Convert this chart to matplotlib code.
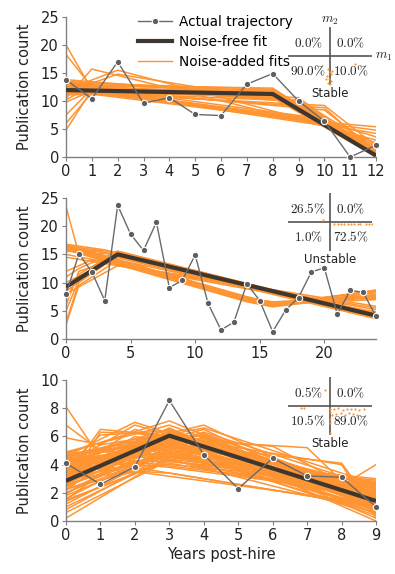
import matplotlib
matplotlib.use("Agg")
import matplotlib.pyplot as plt
from matplotlib.lines import Line2D

plt.rcParams['font.family'] = ['DejaVu Sans']
plt.rcParams['mathtext.fontset'] = 'cm'

# ---------------- data ----------------
p1_years = list(range(13))
p1_actual = [13.8, 10.4, 17.0, 9.6, 10.6, 7.6, 7.4, 13.0, 14.9, 10.0, 6.4, 0.0, 2.1]
p1_fit_x = [0, 8, 12]
p1_fit_y = [11.95, 11.25, 0.25]
p1_noise = [
    [(0, 13.5), (8, 11.5), (12, 0.3)], [(0, 13.0), (8, 11.8), (12, 0.0)],
    [(0, 12.6), (8, 11.2), (12, 0.8)], [(0, 12.2), (8, 12.0), (12, 0.5)],
    [(0, 11.8), (8, 11.6), (12, 1.2)], [(0, 11.4), (8, 11.0), (12, 0.2)],
    [(0, 13.8), (8, 10.9), (12, 1.0)], [(0, 12.9), (8, 12.3), (12, 0.6)],
    [(0, 11.1), (8, 11.4), (12, 1.5)], [(0, 12.4), (8, 10.6), (12, 0.1)],
    [(0, 13.3), (8, 12.1), (12, 0.9)], [(0, 11.6), (8, 10.8), (12, 0.4)],
    [(0, 12.8), (9, 10.6), (12, 0.4)], [(0, 12.3), (9, 10.2), (12, 1.8)],
    [(0, 13.2), (9, 9.8), (12, 0.9)], [(0, 12.0), (10, 8.8), (12, 0.5)],
    [(0, 12.5), (10, 8.4), (12, 1.2)], [(0, 11.6), (10, 9.2), (12, 2.0)],
    [(0, 12.8), (10, 6.2), (12, 5.4)], [(0, 12.4), (10, 6.0), (12, 4.8)],
    [(0, 13.0), (10, 5.8), (12, 4.2)], [(0, 12.0), (10, 6.4), (12, 3.6)],
    [(0, 12.6), (10, 5.6), (12, 3.0)], [(0, 11.8), (10, 6.1), (12, 2.5)],
    [(0, 10.5), (1, 15.7), (10, 5.5), (12, 1.0)], [(0, 12.0), (2, 15.5), (10, 5.8), (12, 0.8)],
    [(0, 11.5), (2, 14.8), (9, 9.5), (12, 0.5)], [(0, 12.5), (10, 6.6), (12, 0.5)],
    [(0, 13.0), (10, 6.8), (12, 1.5)], [(0, 20.0), (1, 12.0), (8, 11.0), (12, 0.2)],
    [(0, 18.3), (1, 12.5), (8, 11.3), (12, 0.5)], [(0, 9.8), (1, 11.8), (8, 11.5), (12, 0.8)],
    [(0, 7.5), (1, 12.2), (8, 11.2), (12, 0.3)], [(0, 4.8), (1, 12.0), (8, 11.6), (12, 0.6)],
    [(0, 6.0), (1, 11.5), (9, 10.0), (12, 1.0)], [(0, 10.2), (1, 12.8), (8, 11.9), (12, 0.4)],
]
p1_pct = ["0.0\\%", "0.0\\%", "90.0\\%", "10.0\\%"]
p1_label = "Stable"
p1_dots_m1 = [-0.05, 0.0, 0.03, -0.08, -0.02, 0.02, -0.04, 0.05, -0.1, 0.0, 0.6]
p1_dots_m2 = [-0.45, -0.55, -0.62, -0.7, -0.78, -0.85, -0.92, -0.5, -0.8, -0.97, -0.28]

p2_years = list(range(25))
p2_actual = [7.9, 15.1, 11.9, 6.8, 23.7, 18.6, 15.7, 20.7, 9.1, 10.4, 14.9, 6.3,
             1.6, 3.0, 9.8, 6.8, 1.3, 5.1, 7.35, 11.9, 12.6, 4.4, 8.6, 8.3, 4.0]
p2_fit_x = [0, 4, 24]
p2_fit_y = [9.25, 15.0, 4.15]
p2_noise = [
    [(0, 9.0), (4, 15.3), (24, 4.0)], [(0, 8.5), (4, 15.0), (24, 4.4)],
    [(0, 10.0), (4, 14.6), (24, 3.8)], [(0, 7.0), (1, 11.5), (4, 15.5), (24, 4.2)],
    [(0, 5.0), (1, 10.5), (4, 15.2), (24, 3.9)], [(0, 3.0), (1, 10.0), (4, 14.8), (24, 4.5)],
    [(0, 11.0), (1, 12.5), (4, 15.6), (24, 4.1)], [(0, 6.0), (1, 12.0), (4, 14.4), (24, 3.6)],
    [(0, 2.5), (1, 9.5), (4, 14.0), (24, 4.3)], [(0, 16.5), (4, 15.3), (24, 4.0)],
    [(0, 16.2), (4, 15.0), (24, 4.3)], [(0, 16.8), (3, 15.8), (24, 3.8)],
    [(0, 15.5), (2, 15.8), (24, 4.6)], [(0, 23.5), (1, 15.0), (4, 15.2), (24, 4.0)],
    [(0, 15.0), (5, 12.8), (24, 5.8)], [(0, 14.5), (24, 5.5)],
    [(0, 12.0), (2, 14.0), (24, 5.2)], [(0, 8.0), (4, 13.0), (24, 4.8)],
    [(0, 16.8), (14, 7.3), (16, 6.2), (24, 8.6)], [(0, 16.5), (14, 7.0), (16, 5.9), (24, 8.2)],
    [(0, 16.2), (14, 6.8), (16, 6.0), (24, 7.6)], [(0, 16.0), (14, 7.2), (16, 6.6), (24, 7.2)],
    [(0, 15.8), (14, 6.6), (16, 5.7), (24, 7.9)], [(0, 16.6), (14, 7.5), (16, 6.4), (24, 7.4)],
    [(0, 16.3), (14, 7.1), (16, 6.3), (24, 8.4)], [(0, 15.9), (14, 6.9), (16, 6.1), (24, 7.0)],
    [(0, 16.4), (14, 6.7), (16, 5.8), (24, 8.7)], [(0, 16.1), (14, 7.4), (16, 6.5), (24, 7.8)],
]
p2_pct = ["26.5\\%", "0.0\\%", "1.0\\%", "72.5\\%"]
p2_label = "Unstable"
p2_dots_m1 = [0.1, 0.18, 0.26, 0.34, 0.42, 0.5, 0.58, 0.66, 0.72, 0.85, 0.92, 1.0, -0.17]
p2_dots_m2 = [-0.07, -0.06, -0.08, -0.07, -0.06, -0.08, -0.07, -0.06, -0.07, -0.08, -0.07, -0.06, 0.07]

p3_years = list(range(10))
p3_actual = [4.1, 2.6, 3.85, 8.55, 4.7, 2.3, 4.45, 3.2, 3.1, 1.0]
p3_fit_x = [0, 3, 9]
p3_fit_y = [2.85, 6.05, 1.42]
p3_noise = [
    [(0, 4.9), (3, 6.8), (9, 1.5)], [(0, 4.5), (3, 6.5), (9, 1.0)], [(0, 4.2), (3, 6.2), (9, 1.8)],
    [(0, 3.8), (3, 6.0), (9, 2.2)], [(0, 3.5), (3, 5.8), (9, 0.8)], [(0, 3.2), (3, 5.5), (9, 1.3)],
    [(0, 2.8), (3, 6.1), (9, 1.6)], [(0, 2.4), (3, 5.9), (9, 2.5)], [(0, 2.0), (3, 5.6), (9, 1.2)],
    [(0, 1.6), (3, 5.3), (9, 2.0)], [(0, 1.2), (3, 5.0), (9, 0.6)], [(0, 0.8), (3, 4.8), (9, 1.4)],
    [(0, 0.2), (3, 4.6), (9, 2.8)], [(0, 4.7), (3, 5.2), (9, 0.4)], [(0, 4.0), (3, 4.9), (9, 2.4)],
    [(0, 3.0), (3, 4.5), (9, 3.0)], [(0, 4.4), (3, 4.2), (9, 2.9)], [(0, 3.6), (3, 4.0), (9, 2.6)],
    [(0, 4.8), (3, 7.1), (9, 1.1)], [(0, 3.3), (3, 6.6), (9, 0.2)], [(0, 2.6), (3, 6.4), (9, 0.0)],
    [(0, 4.6), (2, 7.0), (9, 1.5)], [(0, 4.0), (2, 6.8), (9, 2.0)], [(0, 3.4), (2, 6.5), (9, 1.2)],
    [(0, 2.9), (2, 6.0), (9, 2.6)], [(0, 2.2), (2, 5.6), (9, 0.9)], [(0, 1.5), (2, 5.2), (9, 1.7)],
    [(0, 4.3), (2, 5.0), (9, 1.9)], [(0, 3.7), (2, 4.6), (9, 2.3)], [(0, 2.5), (2, 4.2), (9, 2.1)],
    [(0, 4.9), (2, 3.8), (9, 1.0)], [(0, 4.5), (4, 6.8), (9, 1.2)], [(0, 3.9), (4, 6.5), (9, 0.7)],
    [(0, 3.0), (4, 6.2), (9, 1.9)], [(0, 2.0), (4, 6.0), (9, 1.4)], [(0, 1.0), (4, 5.7), (9, 2.2)],
    [(0, 4.2), (4, 5.4), (9, 0.5)], [(0, 3.4), (4, 5.0), (9, 2.7)],
    [(0, 8.1), (1, 4.5), (3, 6.0), (9, 1.3)], [(0, 6.8), (1, 5.0), (3, 5.9), (9, 1.6)],
    [(0, 5.9), (1, 5.4), (3, 6.2), (9, 1.0)], [(0, 3.2), (1, 6.5), (4, 5.8), (9, 1.5)],
    [(0, 2.5), (1, 6.3), (4, 6.0), (9, 1.1)], [(0, 3.8), (1, 6.1), (3, 6.4), (9, 1.8)],
    [(0, 4.0), (3, 5.8), (7, 5.2), (9, 0.5)], [(0, 3.6), (3, 5.5), (8, 4.1), (9, 0.8)],
    [(0, 4.3), (3, 6.0), (8, 4.0), (9, 0.2)], [(0, 3.9), (3, 5.9), (6, 5.3), (9, 1.5)],
    [(0, 3.5), (3, 5.0), (8, 2.5), (9, 4.0)], [(0, 3.0), (2, 3.5), (9, 1.2)],
    [(0, 3.8), (3, 3.4), (9, 1.0)], [(0, 4.6), (4, 6.1), (9, 2.0)],
    [(0, 4.1), (3, 6.3), (9, 1.4)], [(0, 3.7), (3, 5.7), (9, 1.9)], [(0, 3.1), (3, 6.2), (9, 0.9)],
    [(0, 2.7), (3, 5.4), (9, 1.7)], [(0, 2.2), (3, 5.1), (9, 2.3)], [(0, 1.8), (3, 4.9), (9, 1.0)],
    [(0, 1.4), (3, 4.4), (9, 2.5)], [(0, 0.6), (3, 4.3), (9, 1.6)], [(0, 4.6), (3, 5.6), (9, 0.7)],
    [(0, 4.3), (3, 4.7), (9, 2.1)], [(0, 3.9), (3, 5.3), (9, 1.3)], [(0, 3.4), (3, 6.3), (9, 2.4)],
    [(0, 4.8), (2, 6.3), (9, 1.3)], [(0, 4.4), (2, 5.8), (9, 2.2)], [(0, 3.2), (2, 5.4), (9, 1.8)],
    [(0, 2.6), (2, 5.0), (9, 0.6)], [(0, 1.9), (2, 4.8), (9, 1.5)], [(0, 4.1), (4, 5.9), (9, 1.6)],
    [(0, 3.6), (4, 6.3), (9, 2.4)], [(0, 2.6), (4, 5.5), (9, 0.9)], [(0, 1.5), (4, 5.2), (9, 1.8)],
    [(0, 4.7), (4, 6.6), (9, 2.6)], [(0, 2.3), (3, 4.1), (9, 1.6)], [(0, 4.5), (3, 3.8), (9, 1.9)],
]
p3_pct = ["0.5\\%", "0.0\\%", "10.5\\%", "89.0\\%"]
p3_label = "Stable"
p3_dots_m1 = [0.0, 0.1, 0.2, 0.3, 0.4, 0.5, 0.6, 0.7, 0.8, 0.05, 0.15, 0.25, 0.35, 0.45,
              0.55, 0.65, 0.0, 0.0, 0.0, -0.7, -0.62, -0.12, 0.0]
p3_dots_m2 = [-0.1, -0.12, -0.08, -0.15, -0.1, -0.12, -0.1, -0.15, -0.1, -0.3, -0.28, -0.25,
              -0.3, -0.25, -0.28, -0.3, -0.45, -0.6, -0.2, -0.07, -0.07, 0.55, -0.93]

y_label = "Publication count"
x_label = "Years post-hire"

# ---------------- style ----------------
ORANGE = '#FF9433'
DARK = '#3E3730'
GRAY = '#6A6A6A'
SPINE = '#808080'

W, H = 395, 574
fig = plt.figure(figsize=(W / 100, H / 100), dpi=100)


def px(x0, y0, x1, y1):
    return [x0 / W, 1 - y1 / H, (x1 - x0) / W, (y1 - y0) / H]


def main_panel(rect, years, actual, fit_x, fit_y, noise, ylim, yticks, xlim, xticks):
    ax = fig.add_axes(rect)
    for fitline in noise:
        xs = [p[0] for p in fitline]
        ys = [p[1] for p in fitline]
        ax.plot(xs, ys, color=ORANGE, lw=1.1, zorder=2, solid_joinstyle='miter')
    ax.plot(years, actual, color=GRAY, lw=1.0, marker='o', ms=4.6, mfc='#5E5E5E',
            mec='white', mew=0.8, zorder=4, clip_on=False)
    ax.plot(fit_x, fit_y, color=DARK, lw=3.0, zorder=3, solid_capstyle='butt')
    ax.set_xlim(*xlim)
    ax.set_ylim(*ylim)
    ax.set_xticks(xticks)
    ax.set_yticks(yticks)
    for s in ['top', 'right']:
        ax.spines[s].set_visible(False)
    for s in ['left', 'bottom']:
        ax.spines[s].set_color(SPINE)
        ax.spines[s].set_linewidth(1.0)
    ax.tick_params(direction='out', length=3, width=0.8, color=SPINE,
                   labelsize=10.5, labelcolor='#222222', pad=2)
    ax.set_ylabel(y_label, fontsize=10.5, color='#222222', labelpad=6)
    return ax


def inset(rect, pct, label, dm1, dm2):
    ia = fig.add_axes(rect)
    ia.set_xlim(-1, 1)
    ia.set_ylim(-1, 1)
    ia.axis('off')
    ia.axhline(0, color='#555555', lw=1.2)
    ia.axvline(0, color='#555555', lw=1.2)
    ia.scatter(dm1, dm2, s=2.5, color=ORANGE, zorder=3, linewidths=0)
    pos = [(-0.52, 0.45), (0.5, 0.45), (-0.52, -0.52), (0.5, -0.52)]
    for (x, y), t in zip(pos, pct):
        ia.text(x, y, r'$\mathrm{' + t + '}$', ha='center', va='center', fontsize=9.5,
                color='#222222', zorder=4)
    ia.text(0, -1.3, label, ha='center', va='center', fontsize=8.5, color='#222222')
    return ia


ax1 = main_panel(px(66, 17, 376, 157), p1_years, p1_actual, p1_fit_x, p1_fit_y, p1_noise,
                 (0, 25), [0, 5, 10, 15, 20, 25], (0, 12), list(range(13)))
ax2 = main_panel(px(66, 198, 376, 339), p2_years, p2_actual, p2_fit_x, p2_fit_y, p2_noise,
                 (0, 25), [0, 5, 10, 15, 20, 25], (0, 24), [0, 5, 10, 15, 20])
ax3 = main_panel(px(66, 380, 376, 521), p3_years, p3_actual, p3_fit_x, p3_fit_y, p3_noise,
                 (0, 10), [0, 2, 4, 6, 8, 10], (0, 9), list(range(10)))
ax3.set_xlabel(x_label, fontsize=10.5, color='#222222', labelpad=3)

i1 = inset(px(288, 27, 372, 85), p1_pct, p1_label, p1_dots_m1, p1_dots_m2)
i1.text(0, 1.22, r'$m_2$', ha='center', va='center', fontsize=9.5, color='#222222')
i1.text(1.08, -0.02, r'$m_1$', ha='left', va='center', fontsize=9.5, color='#222222')
inset(px(288, 193, 372, 251), p2_pct, p2_label, p2_dots_m1, p2_dots_m2)
inset(px(288, 377, 372, 435), p3_pct, p3_label, p3_dots_m1, p3_dots_m2)

handles = [
    Line2D([], [], color=GRAY, lw=1.0, marker='o', ms=4.6, mfc='#5E5E5E', mec='white', mew=0.8),
    Line2D([], [], color=DARK, lw=3.0),
    Line2D([], [], color=ORANGE, lw=1.0),
]
fig.legend(handles, ["Actual trajectory", "Noise-free fit", "Noise-added fits"],
           loc='upper left', bbox_to_anchor=(138 / W, 1 - 15 / H), frameon=False,
           fontsize=9.8, handlelength=2.5, handletextpad=0.5, labelspacing=0.45,
           borderaxespad=0, borderpad=0, markerscale=1.0)

fig.savefig("out.png", dpi=100)
